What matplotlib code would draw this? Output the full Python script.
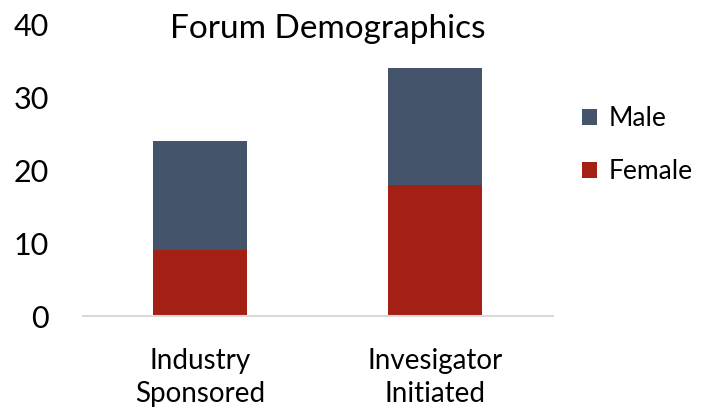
import matplotlib
matplotlib.use("Agg")
import matplotlib.pyplot as plt
import numpy as np

categories = ["Industry\nSponsored", "Invesigator\nInitiated"]
female = [9, 18]
male = [15, 16]
yticks = [0, 10, 20, 30, 40]

plt.rcParams['font.family'] = ['Lato', 'DejaVu Sans']

fig = plt.figure(figsize=(7.07, 4.11), dpi=100)
ax = fig.add_axes([0.1167, 0.2311, 0.6648, 0.7105])
x = np.arange(len(categories))
c_f = "#A52014"
c_m = "#44546A"
ax.bar(x, female, width=0.4, color=c_f, label="Female")
ax.bar(x, male, width=0.4, bottom=female, color=c_m, label="Male")
ax.set_xlim(-0.5, 1.5)
ax.set_ylim(0, 40)
ax.set_yticks(yticks)
ax.set_xticks(x)
ax.set_xticklabels(categories, fontsize=20, linespacing=1.35)
ax.tick_params(axis='y', length=0, pad=24, labelsize=22)
ax.tick_params(axis='x', length=0, pad=23)
for s in ['top', 'right', 'left']:
    ax.spines[s].set_visible(False)
ax.spines['bottom'].set_color('#D9D9D9')
ax.spines['bottom'].set_linewidth(1.5)
fig.text(0.463, 0.93, "Forum Demographics", fontsize=24, ha='center', va='center')
h, l = ax.get_legend_handles_labels()
fig.legend(h[::-1], l[::-1], loc='center left', bbox_to_anchor=(0.79, 0.647),
           frameon=False, fontsize=19, handlelength=0.55, handleheight=0.55,
           handletextpad=0.45, labelspacing=1.05)
fig.savefig("out.png", dpi=100)
